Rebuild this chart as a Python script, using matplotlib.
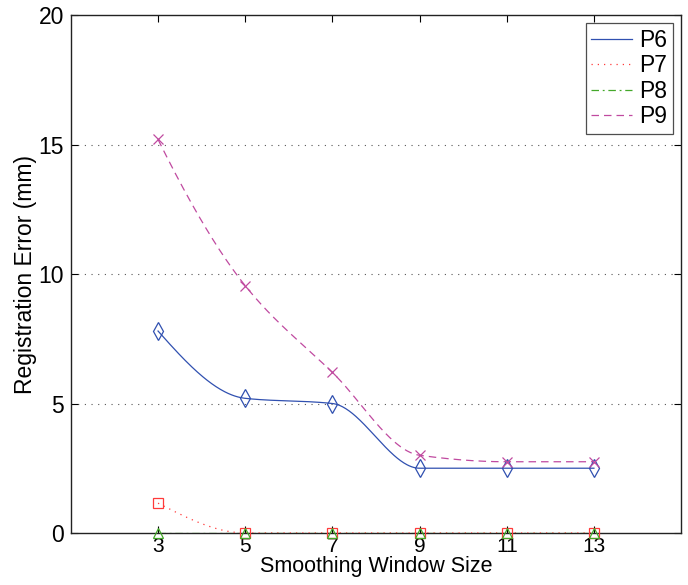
import numpy as np
import matplotlib
matplotlib.use("Agg")
import matplotlib.pyplot as plt
from matplotlib.lines import Line2D

window_sizes = [3, 5, 7, 9, 11, 13]
p6 = [7.8, 5.2, 5.0, 2.5, 2.5, 2.5]
p7 = [1.15, 0.0, 0.0, 0.0, 0.0, 0.0]
p8 = [0.0, 0.0, 0.0, 0.0, 0.0, 0.0]
p9 = [15.2, 9.55, 6.2, 3.0, 2.75, 2.75]
series_names = ["P6", "P7", "P8", "P9"]
x_ticks = [3, 5, 7, 9, 11, 13]
y_ticks = [0, 5, 10, 15, 20]


def pchip(x, y, xn):
    x = np.asarray(x, float)
    y = np.asarray(y, float)
    h = np.diff(x)
    delta = np.diff(y) / h
    n = len(x)
    d = np.zeros(n)
    for k in range(1, n - 1):
        if delta[k - 1] * delta[k] > 0:
            w1 = 2 * h[k] + h[k - 1]
            w2 = h[k] + 2 * h[k - 1]
            d[k] = (w1 + w2) / (w1 / delta[k - 1] + w2 / delta[k])
        else:
            d[k] = 0.0

    def end_slope(h0, h1, del0, del1):
        s = ((2 * h0 + h1) * del0 - h0 * del1) / (h0 + h1)
        if np.sign(s) != np.sign(del0):
            s = 0.0
        elif np.sign(del0) != np.sign(del1) and abs(s) > abs(3 * del0):
            s = 3 * del0
        return s

    d[0] = end_slope(h[0], h[1], delta[0], delta[1])
    d[-1] = end_slope(h[-1], h[-2], delta[-1], delta[-2])
    xn = np.asarray(xn, float)
    idx = np.clip(np.searchsorted(x, xn) - 1, 0, n - 2)
    t = (xn - x[idx]) / h[idx]
    hh = h[idx]
    h00 = 2 * t**3 - 3 * t**2 + 1
    h10 = t**3 - 2 * t**2 + t
    h01 = -2 * t**3 + 3 * t**2
    h11 = t**3 - t**2
    return h00 * y[idx] + h10 * hh * d[idx] + h01 * y[idx + 1] + h11 * hh * d[idx + 1]


plt.rcParams['font.family'] = ['Liberation Sans', 'DejaVu Sans']
FS = 16.5

fig = plt.figure(figsize=(6.88, 5.85), dpi=100)
ax = fig.add_axes([0.103, 0.089, 0.887, 0.885])

xs = np.linspace(window_sizes[0], window_sizes[-1], 400)
styles = [
    (p6, "#3050b0", "-", "d"),
    (p7, "#ff3a3a", (0, (1, 4)), "s"),
    (p8, "#44a82a", (0, (6, 3, 1.5, 3)), "^"),
    (p9, "#c04aa0", (0, (6, 4)), "x"),
]
handles = []
for (vals, col, ls, mk), name in zip(styles, series_names):
    ax.plot(xs, pchip(window_sizes, vals, xs), color=col, linestyle=ls, lw=0.9, zorder=3)
    ax.plot(window_sizes, vals, linestyle="none", marker=mk, markersize=9 if mk == "d" else 7,
            markerfacecolor="none", markeredgecolor=col, markeredgewidth=0.9, zorder=4, clip_on=False)
    handles.append(Line2D([0], [0], color=col, linestyle=ls, lw=0.9))

ax.set_xlim(1, 15)
ax.set_ylim(0, 20)
ax.set_xticks(x_ticks)
ax.set_yticks(y_ticks)
ax.tick_params(direction="in", top=True, right=True, labelsize=FS, length=5, width=0.8)
ax.tick_params(axis="x", pad=3, labelsize=15)
ax.tick_params(axis="y", pad=5)
for s in ax.spines.values():
    s.set_linewidth(1.0)
    s.set_color("#222222")
for yv in y_ticks[1:-1]:
    ax.axhline(yv, color="#555555", linestyle=(0, (1, 5)), lw=0.8, zorder=1)

ax.set_xlabel("Smoothing Window Size", fontsize=15.5, labelpad=0)
ax.set_ylabel("Registration Error (mm)", fontsize=FS, labelpad=1)

leg = ax.legend(handles, series_names, loc="upper right", fontsize=FS, frameon=True,
                fancybox=False, edgecolor="#222222", handlelength=1.8, handletextpad=0.3,
                borderpad=0.25, labelspacing=0.1, borderaxespad=0.35)
leg.get_frame().set_linewidth(0.9)

fig.savefig("out.png", dpi=100)
